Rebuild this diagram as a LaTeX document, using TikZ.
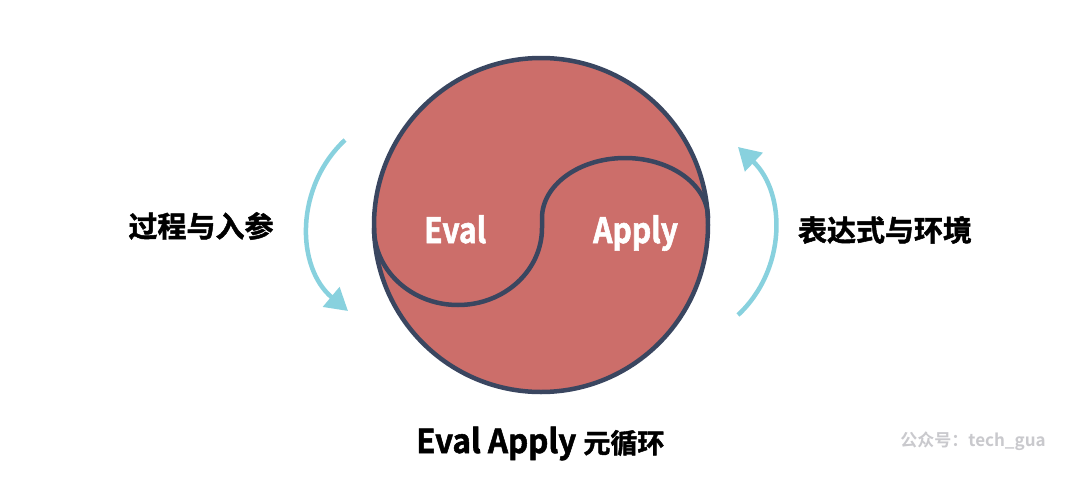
\documentclass[tikz,border=0pt]{standalone}
\usepackage{fontspec}
\setmainfont{Noto Sans CJK SC}[BoldFont=* Bold]
\newfontfamily\heavy{Noto Sans CJK SC Bold}[FakeBold=1.6]
\newfontfamily\heavycond{Noto Sans CJK SC Bold}[FakeBold=1.6, FakeStretch=0.86]
\newfontfamily\heavytitle{Noto Sans CJK SC Bold}[FakeBold=1.6, FakeStretch=0.95]
\usetikzlibrary{arrows.meta}
\definecolor{ballfill}{HTML}{CC6E6A}
\definecolor{ballline}{HTML}{3A4660}
\definecolor{arrowc}{HTML}{88D1DE}
\definecolor{wmark}{HTML}{C9C9CD}
\begin{document}
\begin{tikzpicture}[x=1pt,y=-1pt,
  ball/.style={circle, draw=ballline, fill=ballfill, line width=4.5pt, minimum size=334pt, inner sep=0pt},
  seam/.style={draw=ballline, line width=4.5pt},
  cyc/.style={draw=arrowc, line width=4.5pt, -{Triangle[length=22pt,width=25pt]}},
  side/.style={font=\heavy\fontsize{29}{30}\selectfont, inner sep=0pt},
  inner/.style={font=\heavycond\fontsize{35}{38}\selectfont, text=white, inner sep=0pt, anchor=base west},
  titletext/.style={inner sep=0pt, anchor=base west},
  wm/.style={font=\bfseries\fontsize{17}{18}\selectfont, text=wmark, inner sep=0pt}]
\useasboundingbox (0,0) rectangle (1080,485);
\fill[white] (0,0) rectangle (1080,485);
% ball
\node[ball] (ball) at (541,225) {};
% S-shaped seam
\draw[seam] (374,228) .. controls (374,270.5) and (411.6,305) .. (458,305)
  .. controls (504.4,305) and (542,270.5) .. (542,228)
  -- (542,218)
  .. controls (542,185) and (579.2,158) .. (625,158)
  .. controls (670.8,158) and (708,185) .. (708,218);
% labels inside
\node[inner] (eval) at (424,243) {Eval};
\node[inner] (apply) at (593,243) {Apply};
% cycle arrows
\coordinate (l1) at (345,140);
\coordinate (l2) at (348,311);
\coordinate (r1) at (738,315);
\coordinate (r2) at (738,147);
\draw[cyc] (l1) .. controls (294.6,187) and (295.9,267.3) .. (l2);
\draw[cyc] (r1) .. controls (786.7,269.6) and (786.2,193) .. (r2);
% side texts
\node[side] (proc) at (201,226) {过程与入参};
\node[side] (env) at (885,230) {表达式与环境};
% title
\node[titletext] (title) at (416,453) {\heavytitle\fontsize{33}{34}\selectfont Eval Apply \heavy\fontsize{27}{30}\selectfont 元循环};
% watermark
\node[wm] (mark) at (973,441) {公众号：tech\_gua};
\end{tikzpicture}
\end{document}
